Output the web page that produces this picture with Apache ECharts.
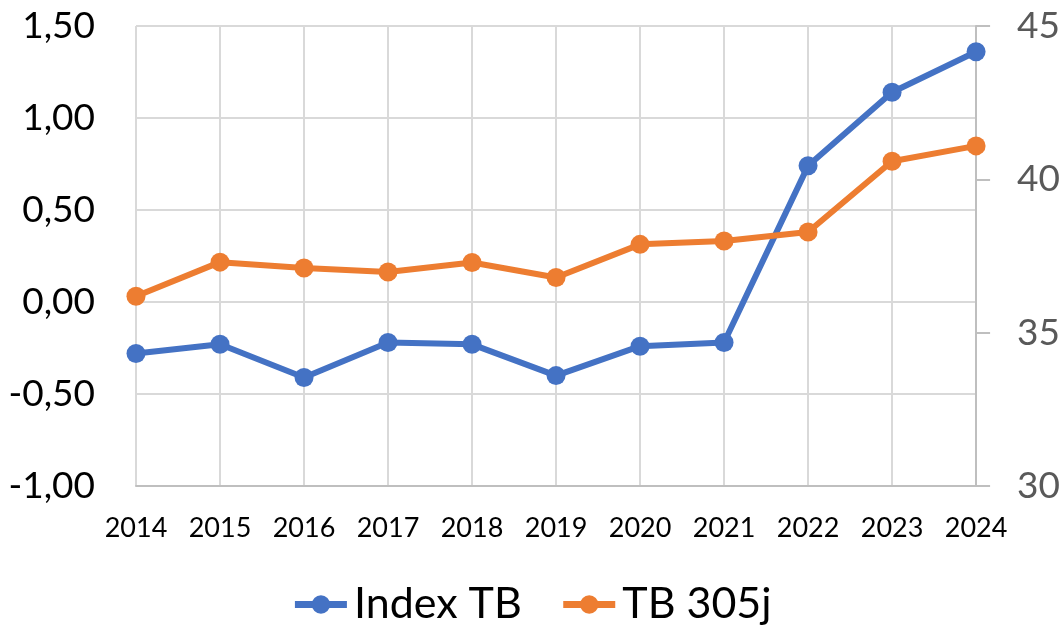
<!DOCTYPE html>
<html>
<head>
<meta charset="utf-8">
<script src="https://cdn.jsdelivr.net/npm/echarts@6/dist/echarts.min.js"></script>
<style>
  html, body { margin: 0; padding: 0; background: #fff; }
  #chart { width: 1063px; height: 627px; }
</style>
</head>
<body>
<div id="chart"></div>
<script>
const years = ['2014', '2015', '2016', '2017', '2018', '2019', '2020', '2021', '2022', '2023', '2024'];
const indexTB = [-0.28, -0.23, -0.41, -0.22, -0.23, -0.40, -0.24, -0.22, 0.74, 1.14, 1.36];
const tb305j = [36.19, 37.30, 37.11, 36.98, 37.29, 36.80, 37.88, 37.99, 38.28, 40.59, 41.09];
const seriesNames = ['Index TB', 'TB 305j'];

const font = 'Lato, "Open Sans", sans-serif';
const gridColor = '#d9d9d9';

let myChart = echarts.init(document.getElementById('chart'));
myChart.setOption({
    animation: false,
    color: ['#4472C4', '#ED7D31'],
    textStyle: { fontFamily: font },
    grid: { left: 136, right: 85, top: 26, bottom: 141 },
    legend: {
        top: 578,
        left: 'center',
        itemWidth: 52,
        itemHeight: 23,
        itemGap: 38,
        lineStyle: { width: 7 },
        textStyle: { fontSize: 43, color: '#000', fontFamily: font, padding: [0, 0, 0, 2] },
        data: seriesNames
    },
    xAxis: {
        type: 'category',
        boundaryGap: false,
        data: years,
        axisLine: { onZero: false, lineStyle: { color: '#bfbfbf', width: 2 } },
        axisTick: { show: false },
        splitLine: { show: true, lineStyle: { color: gridColor, width: 2 } },
        axisLabel: { color: '#000', fontSize: 27, margin: 29, fontFamily: font }
    },
    yAxis: [
        {
            type: 'value',
            min: -1,
            max: 1.5,
            interval: 0.5,
            axisLine: { show: false },
            axisTick: { show: false },
            splitLine: { lineStyle: { color: gridColor, width: 2 } },
            axisLabel: {
                color: '#000',
                fontSize: 37,
                margin: 41,
                fontFamily: font,
                formatter: v => v.toFixed(2).replace('.', ',')
            }
        },
        {
            type: 'value',
            min: 30,
            max: 45,
            interval: 5,
            axisLine: { show: true, lineStyle: { color: '#bfbfbf', width: 2 } },
            axisTick: { show: true, length: 14, lineStyle: { color: '#bfbfbf', width: 2 } },
            splitLine: { show: false },
            axisLabel: { color: '#595959', fontSize: 37, margin: 41, fontFamily: font }
        }
    ],
    series: [
        {
            name: seriesNames[0],
            type: 'line',
            yAxisIndex: 0,
            data: indexTB,
            symbol: 'circle',
            symbolSize: 19,
            lineStyle: { width: 6 }
        },
        {
            name: seriesNames[1],
            type: 'line',
            yAxisIndex: 1,
            data: tb305j,
            symbol: 'circle',
            symbolSize: 19,
            lineStyle: { width: 6 }
        }
    ]
});
</script>
</body>
</html>
